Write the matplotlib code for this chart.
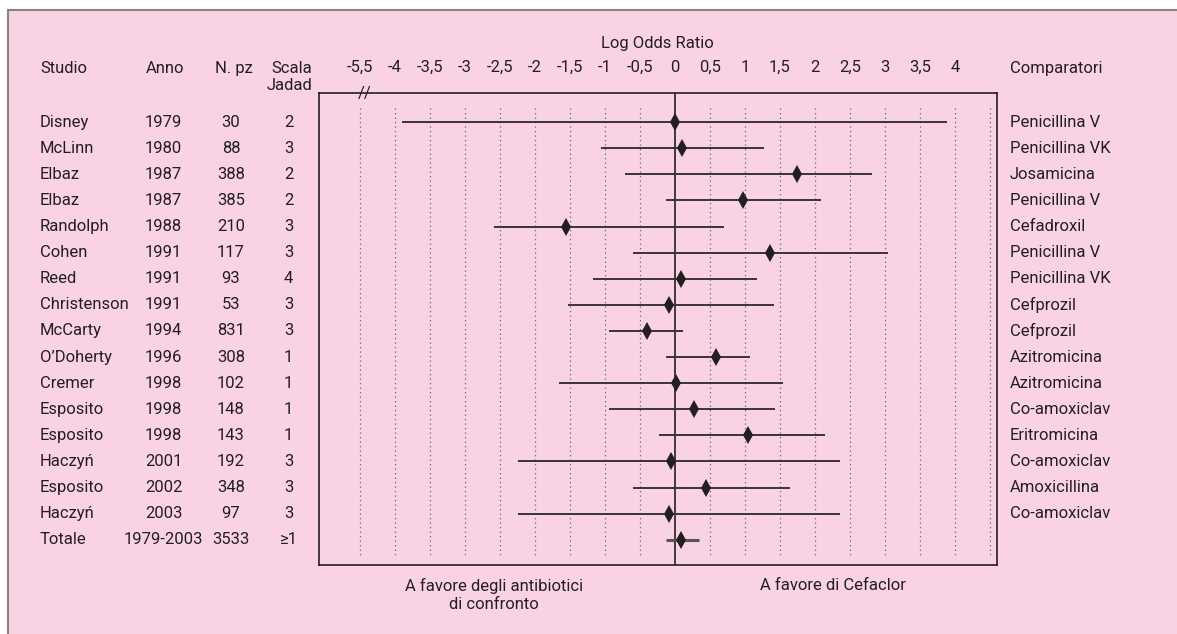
import matplotlib.pyplot as plt
import matplotlib.transforms as mtransforms
from matplotlib.patches import Rectangle

plt.rcParams['font.family'] = ['Roboto', 'DejaVu Sans']

# ================== DATA ==================
studies = ["Disney", "McLinn", "Elbaz", "Elbaz", "Randolph", "Cohen", "Reed",
           "Christenson", "McCarty", "O\u2019Doherty", "Cremer", "Esposito",
           "Esposito", "Haczyń", "Esposito", "Haczyń", "Totale"]
anno = ["1979", "1980", "1987", "1987", "1988", "1991", "1991", "1991", "1994",
        "1996", "1998", "1998", "1998", "2001", "2002", "2003", "1979-2003"]
n_pz = ["30", "88", "388", "385", "210", "117", "93", "53", "831", "308",
        "102", "148", "143", "192", "348", "97", "3533"]
jadad = ["2", "3", "2", "2", "3", "3", "4", "3", "3", "1", "1", "1", "1",
         "3", "3", "3", "≥1"]
comparatori = ["Penicillina V", "Penicillina VK", "Josamicina", "Penicillina V",
               "Cefadroxil", "Penicillina V", "Penicillina VK", "Cefprozil",
               "Cefprozil", "Azitromicina", "Azitromicina", "Co-amoxiclav",
               "Eritromicina", "Co-amoxiclav", "Amoxicillina", "Co-amoxiclav"]

log_or = [0.0, 0.10, 1.75, 0.98, -1.55, 1.36, 0.09, -0.08, -0.40, 0.59,
          0.01, 0.27, 1.04, -0.06, 0.44, -0.08, 0.09]
ci_low = [-3.90, -1.06, -0.71, -0.12, -2.58, -0.59, -1.17, -1.53, -0.94, -0.12,
          -1.66, -0.94, -0.23, -2.24, -0.59, -2.24, -0.12]
ci_high = [3.88, 1.28, 2.81, 2.09, 0.70, 3.04, 1.17, 1.42, 0.12, 1.07,
           1.55, 1.43, 2.14, 2.36, 1.65, 2.36, 0.34]

# axis break: the first position (-4.5) is labelled -5,5
tick_pos = [-4.5, -4, -3.5, -3, -2.5, -2, -1.5, -1, -0.5, 0, 0.5, 1, 1.5,
            2, 2.5, 3, 3.5, 4]
tick_labels = ["-5,5", "-4", "-3,5", "-3", "-2,5", "-2", "-1,5", "-1", "-0,5",
               "0", "0,5", "1", "1,5", "2", "2,5", "3", "3,5", "4"]
grid_pos = [-4.5, -4, -3.5, -3, -2.5, -2, -1.5, -1, -0.5, 0.5, 1, 1.5,
            2, 2.5, 3, 3.5, 4, 4.5]

# ================== STYLE ==================
W, H = 1177, 634
PINK = '#F9D3E3'
INK = '#231f20'
FS = 12


def fx(px):
    return px / W


def fy(py):
    return 1 - py / H


fig = plt.figure(figsize=(W / 100, H / 100), dpi=100, facecolor='white')

# pink panel with grey border
fig.patches.append(Rectangle((fx(8), -0.05), 1.1, fy(10) + 0.05,
                             transform=fig.transFigure, facecolor=PINK,
                             edgecolor='#8d8288', linewidth=1.5, zorder=-10))

ax = fig.add_axes([fx(319), fy(565), fx(997) - fx(319), fy(93.3) - fy(565)])
ax.set_zorder(1)
ax.set_facecolor('none')
ax.set_xlim(-5.08, 4.60)
ax.set_ylim(16.97, -1.107)
for s in ax.spines.values():
    s.set_color(INK)
    s.set_linewidth(1.2)

rows = list(range(len(studies)))

# dotted reference lines and solid zero line
ax.vlines(grid_pos, -0.54, 16.57, colors='#6f6468', linestyles=(0, (1, 2.6)),
          linewidth=0.9)
ax.axvline(0, color=INK, linewidth=1.2)

# confidence intervals and point estimates
ax.hlines(rows[:-1], ci_low[:-1], ci_high[:-1], colors='#3a3436', linewidth=1.4)
ax.hlines(rows[-1:], ci_low[-1:], ci_high[-1:], colors='#5a5356', linewidth=2.2)
ax.plot(log_or, rows, linestyle='none', marker='d', markersize=9,
        color=INK, markeredgewidth=0)

# axis ticks on top
ax.xaxis.set_ticks_position('top')
ax.set_xticks(tick_pos, tick_labels)
ax.set_yticks([])
ax.tick_params(axis='x', length=0, pad=13.5, labelsize=FS, labelcolor=INK)

# break mark
ax.text(-4.43, -1.107, '//', ha='center', va='center', fontsize=12,
        color=INK, clip_on=False)

# table columns
tr = mtransforms.blended_transform_factory(fig.transFigure, ax.transData)
for i in rows:
    fig.text(fx(40), i, studies[i], transform=tr, ha='left', va='center',
             fontsize=FS, color=INK)
    fig.text(fx(163.5), i, anno[i], transform=tr, ha='center', va='center',
             fontsize=FS, color=INK)
    fig.text(fx(231), i, n_pz[i], transform=tr, ha='center', va='center',
             fontsize=FS, color=INK)
    fig.text(fx(288.5), i, jadad[i], transform=tr, ha='center', va='center',
             fontsize=FS, color=INK)
for i, c in enumerate(comparatori):
    fig.text(fx(1010), i, c, transform=tr, ha='left', va='center',
             fontsize=FS, color=INK)

# headers
fig.text(fx(40), fy(68.5), "Studio", ha='left', va='center', fontsize=FS, color=INK)
fig.text(fx(165), fy(68.5), "Anno", ha='center', va='center', fontsize=FS, color=INK)
fig.text(fx(234), fy(68.5), "N. pz", ha='center', va='center', fontsize=FS, color=INK)
fig.text(fx(312), fy(68.5), "Scala", ha='right', va='center', fontsize=FS, color=INK)
fig.text(fx(312), fy(86), "Jadad", ha='right', va='center', fontsize=FS, color=INK)
fig.text(fx(1010), fy(68.5), "Comparatori", ha='left', va='center', fontsize=FS, color=INK)
fig.text(fx(657), fy(43.5), "Log Odds Ratio", ha='center', va='center', fontsize=FS, color=INK)

# bottom captions
fig.text(fx(494), fy(595), "A favore degli antibiotici\ndi confronto",
         ha='center', va='center', fontsize=FS, color=INK, linespacing=1.2)
fig.text(fx(833), fy(586), "A favore di Cefaclor", ha='center', va='center',
         fontsize=FS, color=INK)

fig.savefig('out.png', dpi=100, facecolor=fig.get_facecolor())
